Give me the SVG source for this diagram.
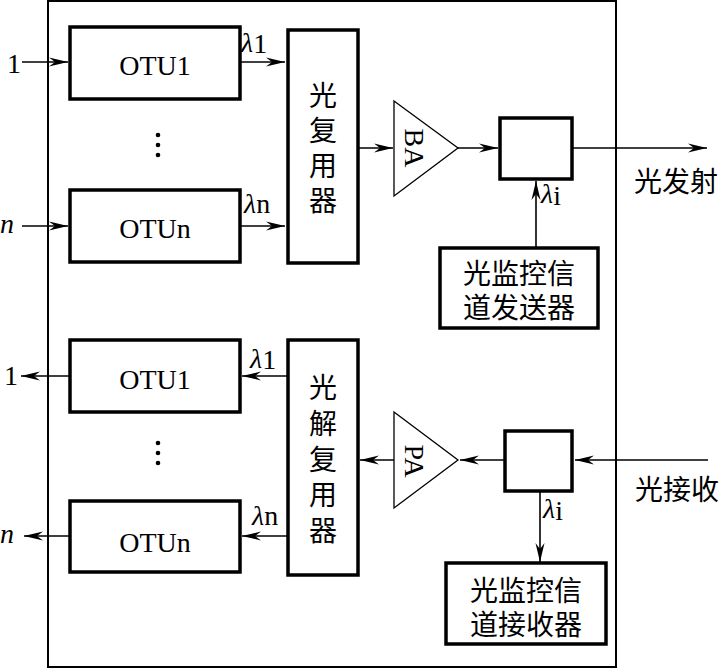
<svg xmlns="http://www.w3.org/2000/svg" width="721" height="669" viewBox="0 0 721 669">
<style>
.box{fill:#fff;stroke:#000;stroke-width:3.5}
.frame{fill:none;stroke:#000;stroke-width:2}
.tri{fill:#fff;stroke:#000;stroke-width:1.3}
.ln{fill:none;stroke:#000;stroke-width:1.6}
.lat{font-family:"Liberation Serif",serif;font-size:28px;fill:#000}
.it{font-family:"Liberation Serif",serif;font-style:italic;fill:#000}
.cjk{font-family:"Liberation Serif","Noto Sans CJK SC",serif;font-size:28px;fill:#000;text-anchor:middle}
</style>
<defs>
<marker id="ah" markerUnits="userSpaceOnUse" markerWidth="22" markerHeight="12" viewBox="-20 -6 22 12" refX="0" refY="0" orient="auto">
<path d="M0,0 L-19,-4.5 L-13,0 L-19,4.5 Z" fill="#000"/>
</marker>
</defs>
<rect id="frame" class="frame" x="48" y="1" width="568" height="666"/>
<g id="connectors">
<line class="ln" x1="22" y1="62" x2="68" y2="62" marker-end="url(#ah)"/>
<line class="ln" x1="22" y1="226" x2="68" y2="226" marker-end="url(#ah)"/>
<line class="ln" x1="240" y1="62" x2="285" y2="62" marker-end="url(#ah)"/>
<line class="ln" x1="240" y1="226" x2="285" y2="226" marker-end="url(#ah)"/>
<line class="ln" x1="358" y1="148" x2="393" y2="148" marker-end="url(#ah)"/>
<line class="ln" x1="458" y1="148" x2="498" y2="148" marker-end="url(#ah)"/>
<line class="ln" x1="572" y1="148" x2="707" y2="148" marker-end="url(#ah)"/>
<line class="ln" x1="536" y1="248" x2="536" y2="181" marker-end="url(#ah)"/>
<line class="ln" x1="70" y1="376" x2="21" y2="376" marker-end="url(#ah)"/>
<line class="ln" x1="70" y1="536" x2="24" y2="536" marker-end="url(#ah)"/>
<line class="ln" x1="288" y1="376" x2="242" y2="376" marker-end="url(#ah)"/>
<line class="ln" x1="288" y1="536" x2="242" y2="536" marker-end="url(#ah)"/>
<line class="ln" x1="394" y1="460" x2="360" y2="460" marker-end="url(#ah)"/>
<line class="ln" x1="505" y1="460" x2="460" y2="460" marker-end="url(#ah)"/>
<line class="ln" x1="708" y1="460" x2="575" y2="460" marker-end="url(#ah)"/>
<line class="ln" x1="540" y1="491" x2="540" y2="562" marker-end="url(#ah)"/>
</g>
<g id="labels">
<text class="lat" x="14" y="73" text-anchor="middle">1</text>
<text class="it" x="7" y="233" font-size="28" text-anchor="middle">n</text>
<text class="lat" x="11" y="385" text-anchor="middle">1</text>
<text class="it" x="7" y="543" font-size="28" text-anchor="middle">n</text>
<text x="241" y="52"><tspan class="it" font-size="28">λ</tspan><tspan class="lat" font-size="20" dy="1">1</tspan></text>
<text x="244" y="213"><tspan class="it" font-size="28">λ</tspan><tspan class="lat" font-size="20" dy="0">n</tspan></text>
<text x="250" y="368"><tspan class="it" font-size="28">λ</tspan><tspan class="lat" font-size="20" dy="1">1</tspan></text>
<text x="252" y="525"><tspan class="it" font-size="28">λ</tspan><tspan class="lat" font-size="20" dy="0">n</tspan></text>
<text x="541" y="203"><tspan class="it" font-size="28">λ</tspan><tspan class="lat" font-size="20" dy="2">i</tspan></text>
<text x="543" y="518"><tspan class="it" font-size="28">λ</tspan><tspan class="lat" font-size="20" dy="2">i</tspan></text>
<text class="cjk" x="676" y="192">光发射</text>
<text class="cjk" x="677" y="500">光接收</text>
<g fill="#000"><circle cx="158" cy="135" r="2.3"/><circle cx="158" cy="145" r="2.3"/><circle cx="158" cy="155" r="2.3"/><circle cx="158" cy="443" r="2.3"/><circle cx="158" cy="453" r="2.3"/><circle cx="158" cy="463" r="2.3"/></g>
</g>
<g id="otu1-tx"><rect class="box" x="70" y="27" width="170" height="72"/><text class="lat" x="155" y="75" text-anchor="middle">OTU1</text></g>
<g id="otun-tx"><rect class="box" x="70" y="190" width="170" height="72"/><text class="lat" x="155" y="238" text-anchor="middle">OTUn</text></g>
<g id="mux"><rect class="box" x="288" y="30" width="70" height="233"/>
<text class="cjk" x="323" y="106">光</text><text class="cjk" x="323" y="141">复</text><text class="cjk" x="323" y="176">用</text><text class="cjk" x="323" y="211">器</text></g>
<g id="ba"><polygon class="tri" points="394,101 458,148 394,196"/><text class="lat" transform="translate(405,148) rotate(90)" text-anchor="middle">BA</text></g>
<g id="coupler-tx"><rect class="box" x="500" y="118" width="72" height="61"/></g>
<g id="osc-tx"><rect class="box" x="440" y="248" width="158" height="80"/><text class="cjk" x="519" y="284">光监控信</text><text class="cjk" x="519" y="318">道发送器</text></g>
<g id="otu1-rx"><rect class="box" x="70" y="340" width="170" height="72"/><text class="lat" x="155" y="389" text-anchor="middle">OTU1</text></g>
<g id="otun-rx"><rect class="box" x="70" y="501" width="170" height="71"/><text class="lat" x="155" y="552" text-anchor="middle">OTUn</text></g>
<g id="demux"><rect class="box" x="288" y="340" width="70" height="235"/>
<text class="cjk" x="323" y="398">光</text><text class="cjk" x="323" y="434">解</text><text class="cjk" x="323" y="470">复</text><text class="cjk" x="323" y="505">用</text><text class="cjk" x="323" y="541">器</text></g>
<g id="pa"><polygon class="tri" points="394,412 458,460 394,508"/><text class="lat" transform="translate(405,461) rotate(90)" text-anchor="middle">PA</text></g>
<g id="coupler-rx"><rect class="box" x="505" y="431" width="67" height="60"/></g>
<g id="osc-rx"><rect class="box" x="446" y="563" width="160" height="81"/><text class="cjk" x="526" y="601">光监控信</text><text class="cjk" x="526" y="635">道接收器</text></g>
</svg>
